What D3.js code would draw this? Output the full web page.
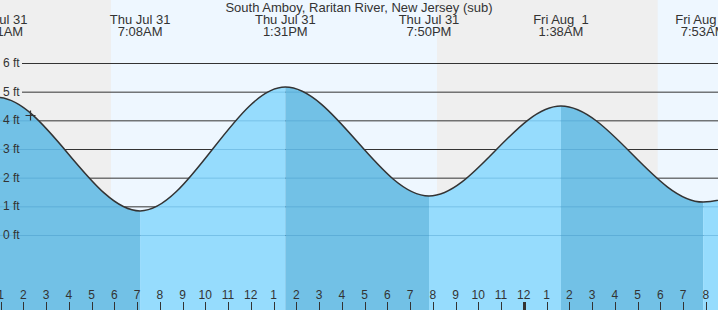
<!DOCTYPE html>
<html>
<head>
<meta charset="utf-8">
<script src="https://cdn.jsdelivr.net/npm/d3@7"></script>
<style>
  html, body { margin: 0; padding: 0; background: #fff; }
  svg { display: block; font-family: "Liberation Sans", Arial, sans-serif; }
</style>
</head>
<body>
<div id="chart"></div>
<script>
// Tide chart: South Amboy, Raritan River, NJ

const title = 'South Amboy, Raritan River, New Jersey (sub)';

// tide extremes (local time), heights in ft
const extremeTimes = [
  new Date(2025, 6, 30, 18, 40),
  new Date(2025, 6, 31, 0, 51),
  new Date(2025, 6, 31, 7, 8),
  new Date(2025, 6, 31, 13, 31),
  new Date(2025, 6, 31, 19, 50),
  new Date(2025, 7, 1, 1, 38),
  new Date(2025, 7, 1, 7, 53),
  new Date(2025, 7, 1, 14, 12)
];
const extremeHeights = [1.1, 4.8, 0.84, 5.16, 1.36, 4.5, 1.15, 5.0];
const extremeDayLabels = ['Wed Jul 30', 'Thu Jul 31', 'Thu Jul 31', 'Thu Jul 31', 'Thu Jul 31', 'Fri Aug  1', 'Fri Aug  1', 'Fri Aug  1'];
const extremeTimeLabels = ['6:40PM', '12:51AM', '7:08AM', '1:31PM', '7:50PM', '1:38AM', '7:53AM', '2:12PM'];

// night periods (sunset -> sunrise)
const nightStarts = [new Date(2025, 6, 30, 20, 14), new Date(2025, 6, 31, 20, 11)];
const nightEnds = [new Date(2025, 6, 31, 5, 51), new Date(2025, 7, 1, 5, 53)];

const feetTicks = [0, 1, 2, 3, 4, 5, 6];

// current time marker
const nowTime = new Date(2025, 6, 31, 2, 18);
const nowHeight = 4.2;

const width = 718, height = 310;

const svg = d3.select('#chart').append('svg')
  .attr('width', width)
  .attr('height', height);

const x = d3.scaleTime()
  .domain([new Date(2025, 6, 31, 0, 58, 33), new Date(2025, 7, 1, 8, 32, 11)])
  .range([0, width]);

const y = d3.scaleLinear()
  .domain([0, 6])
  .range([235, 63]);

// day background
svg.append('rect')
  .attr('width', width).attr('height', height)
  .attr('fill', '#eef7ff');

// night background
svg.selectAll('.night')
  .data(nightStarts)
  .enter().append('rect')
  .attr('class', 'night')
  .attr('x', d => x(d))
  .attr('y', 0)
  .attr('width', (d, i) => x(nightEnds[i]) - x(d))
  .attr('height', height)
  .attr('fill', '#efefef');

// grid lines (above water)
svg.selectAll('.grid')
  .data(feetTicks)
  .enter().append('line')
  .attr('class', 'grid')
  .attr('x1', 22).attr('x2', width)
  .attr('y1', d => y(d) + 0.5).attr('y2', d => y(d) + 0.5)
  .attr('stroke', '#333')
  .attr('stroke-width', 1);

const tide = extremeTimes.map((t, i) => ({ t: t, h: extremeHeights[i] }));

const area = d3.area()
  .x(d => x(d.t))
  .y0(height)
  .y1(d => y(d.h))
  .curve(d3.curveMonotoneX);

const line = d3.line()
  .x(d => x(d.t))
  .y(d => y(d.h))
  .curve(d3.curveMonotoneX);

svg.append('clipPath')
  .attr('id', 'water')
  .append('path')
  .attr('d', area(tide));

const water = svg.append('g').attr('clip-path', 'url(#water)');

// rising / falling segments
water.selectAll('.seg')
  .data(tide.slice(0, -1))
  .enter().append('rect')
  .attr('class', 'seg')
  .attr('x', d => x(d.t))
  .attr('y', 0)
  .attr('width', (d, i) => x(tide[i + 1].t) - x(d.t))
  .attr('height', height)
  .attr('fill', (d, i) => tide[i + 1].h > d.h ? '#96dcfd' : '#72c1e6');

// grid lines under water
water.selectAll('.wgrid')
  .data(feetTicks)
  .enter().append('line')
  .attr('class', 'wgrid')
  .attr('x1', 0).attr('x2', width)
  .attr('y1', d => y(d) + 0.5).attr('y2', d => y(d) + 0.5)
  .attr('stroke', '#2f86b8')
  .attr('stroke-opacity', 0.3)
  .attr('stroke-width', 1);

// tide curve
svg.append('path')
  .attr('d', line(tide))
  .attr('fill', 'none')
  .attr('stroke', '#333')
  .attr('stroke-width', 1.5);

// feet labels
svg.selectAll('.ylab')
  .data(feetTicks)
  .enter().append('text')
  .attr('class', 'ylab')
  .attr('x', 3)
  .attr('y', d => y(d) + 4)
  .style('font-size', '12px')
  .style('fill', '#333')
  .text(d => d + ' ft');

// hour axis
const hours = d3.timeHour.range(d3.timeHour.ceil(x.domain()[0]), x.domain()[1]);

svg.selectAll('.tick')
  .data(hours)
  .enter().append('line')
  .attr('class', 'tick')
  .attr('x1', d => Math.round(x(d)) + 0.5).attr('x2', d => Math.round(x(d)) + 0.5)
  .attr('y1', 302).attr('y2', height)
  .attr('stroke', '#333')
  .attr('stroke-width', d => d.getHours() === 0 ? 3 : 1);

svg.selectAll('.hlab')
  .data(hours)
  .enter().append('text')
  .attr('class', 'hlab')
  .attr('x', d => x(d))
  .attr('y', 299)
  .attr('text-anchor', 'middle')
  .style('font-size', '12px')
  .style('fill', '#333')
  .text(d3.timeFormat('%-I'));

// now marker
const nx = Math.round(x(nowTime)) + 0.5, ny = Math.round(y(nowHeight)) + 0.5;
svg.append('path')
  .attr('d', `M${nx - 5},${ny}H${nx + 5}M${nx},${ny - 5}V${ny + 5}`)
  .attr('stroke', '#333')
  .attr('stroke-width', 1.2);

// extreme labels
const labs = svg.selectAll('.elab')
  .data(tide)
  .enter().append('text')
  .attr('class', 'elab')
  .attr('text-anchor', 'middle')
  .style('font-size', '13px')
  .style('fill', '#333')
  .style('white-space', 'pre');

labs.append('tspan')
  .attr('x', d => x(d.t))
  .attr('y', 24)
  .text((d, i) => extremeDayLabels[i]);

labs.append('tspan')
  .attr('x', d => x(d.t))
  .attr('y', 36)
  .text((d, i) => extremeTimeLabels[i]);

// title
svg.append('text')
  .attr('x', width / 2)
  .attr('y', 12)
  .attr('text-anchor', 'middle')
  .style('font-size', '13px')
  .style('fill', '#333')
  .text(title);
</script>
</body>
</html>
